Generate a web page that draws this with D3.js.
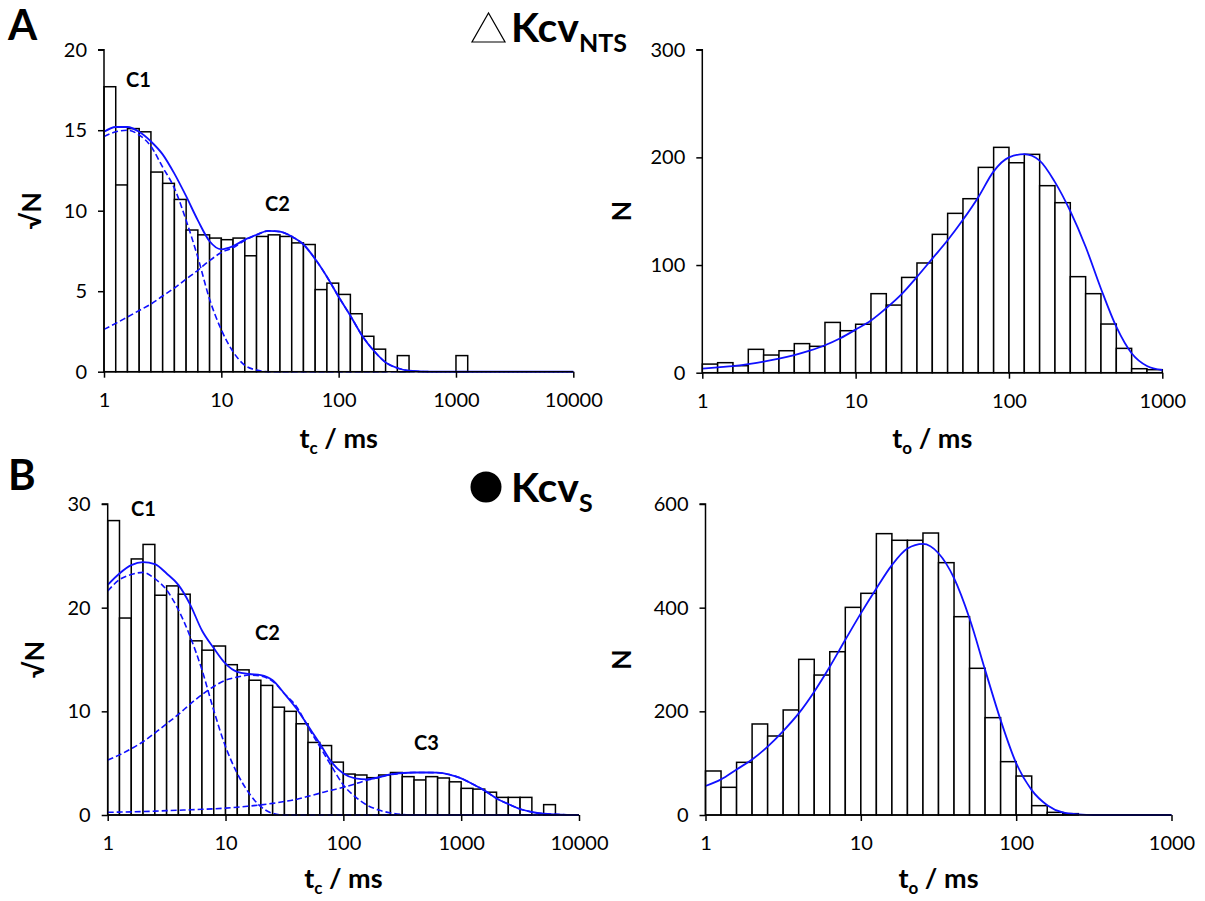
<!DOCTYPE html>
<html><head><meta charset="utf-8">
<script src="https://cdn.jsdelivr.net/npm/d3@7"></script>
<style>
html,body{margin:0;padding:0;background:#fff;}
svg{display:block;}
text{font-family:Lato,"Open Sans","Liberation Sans",sans-serif;fill:#000;}
</style></head>
<body>
<svg id="chart" width="1205" height="901"></svg>
<script>
// ---------- DATA (bins are 0.1-decade wide, starting at 1 ms) ----------
const xTicksClosed = [1, 10, 100, 1000, 10000];
const xTicksOpen = [1, 10, 100, 1000];
const yTicksA_closed = [0, 5, 10, 15, 20];
const yTicksA_open = [0, 100, 200, 300];
const yTicksB_closed = [0, 10, 20, 30];
const yTicksB_open = [0, 200, 400, 600];

// Panel A, closed times (sqrt N)
const aClosedBins = [17.7, 11.6, 15.1, 14.9, 12.4, 11.7, 10.7, 8.8, 8.5, 8.3,
  8.2, 8.3, 7.2, 8.4, 8.5, 8.4, 8.0, 7.9, 5.1, 5.5,
  4.8, 3.6, 2.2, 1.4, 0, 1.0, 0, 0, 0, 0, 1.0];
// fits sampled every 0.1 decade from 1 ms
const aClosedTotal = [14.9, 15.2, 15.2, 14.9, 14.3, 13.5, 12.3, 10.9, 9.4, 8.1,
  7.6, 7.8, 8.2, 8.5, 8.75, 8.7, 8.4, 7.9, 7.0, 5.9,
  4.65, 3.48, 2.24, 1.3, 0.58, 0.23, 0.06, 0.02, 0, 0,
  0, 0, 0, 0, 0, 0, 0, 0, 0, 0, 0];
const aClosedC1 = [14.6, 14.9, 15.0, 14.7, 14.0, 12.7, 11.4, 9.4, 7.1, 4.5,
  2.6, 1.24, 0.4, 0.1, 0, 0, 0, 0, 0, 0,
  0, 0, 0, 0, 0, 0, 0, 0, 0, 0,
  0, 0, 0, 0, 0, 0, 0, 0, 0, 0, 0];
const aClosedC2 = [2.63, 3.0, 3.4, 3.8, 4.2, 4.7, 5.2, 5.75, 6.3, 6.9,
  7.4, 7.7, 8.15, 8.5, 8.75, 8.7, 8.4, 7.9, 7.0, 5.9,
  4.65, 3.48, 2.24, 1.3, 0.58, 0.23, 0.06, 0.02, 0, 0,
  0, 0, 0, 0, 0, 0, 0, 0, 0, 0, 0];

// Panel A, open times (N)
const aOpenBins = [8, 9.3, 6.5, 21.7, 16.4, 20.4, 27, 24.5, 46.7, 39,
  45, 73.4, 62.8, 88.5, 101.9, 128.5, 148, 161.6, 190.7, 209.3,
  195, 202.8, 173.7, 157.9, 89.2, 73.4, 45.2, 22.6, 3.7, 2.8];
const aOpenFit = [3.7, 5, 6.2, 8, 10.2, 13, 16.4, 20.5, 25.5, 32,
  40, 48.5, 60, 73, 89, 106, 123, 142, 163, 187,
  200, 203, 197, 177, 150, 117, 78, 42.7, 18, 6.2, 2.5];

// Panel B, closed times (sqrt N)
const bClosedBins = [28.4, 19.0, 24.7, 26.1, 21.2, 22.1, 21.3, 16.8, 15.9, 16.3,
  14.5, 14.0, 13.0, 12.5, 10.4, 10.0, 8.8, 7.0, 6.7, 5.1,
  3.95, 3.86, 3.6, 3.86, 4.1, 3.7, 3.38, 3.7, 3.57, 3.2,
  2.57, 2.5, 2.2, 1.7, 1.7, 1.7, 0, 1.0];
const bClosedTotal = [22.2, 23.3, 24.1, 24.4, 24.2, 23.3, 22.2, 20.3, 17.8, 16.1,
  14.6, 13.8, 13.6, 13.5, 13.0, 11.7, 10.3, 8.6, 6.9, 5.1,
  4.0, 3.54, 3.44, 3.63, 3.92, 4.05, 4.1, 4.1, 4.08, 3.9,
  3.54, 2.96, 2.35, 1.6, 1.06, 0.58, 0.29, 0.13, 0.06, 0.02, 0];
const bClosedC1 = [21.6, 22.7, 23.2, 23.4, 22.8, 21.7, 19.8, 17.2, 14.0, 10.1,
  6.6, 4.0, 2.1, 0.8, 0.16, 0, 0, 0, 0, 0,
  0, 0, 0, 0, 0, 0, 0, 0, 0, 0,
  0, 0, 0, 0, 0, 0, 0, 0, 0, 0, 0];
const bClosedC2 = [5.3, 5.8, 6.4, 7.07, 7.9, 8.8, 9.7, 10.7, 11.6, 12.4,
  13.0, 13.3, 13.5, 13.4, 12.9, 11.7, 10.5, 8.5, 6.6, 4.7,
  2.9, 1.77, 0.96, 0.48, 0.2, 0.05, 0, 0, 0, 0,
  0, 0, 0, 0, 0, 0, 0, 0, 0, 0, 0];
const bClosedC3 = [0.26, 0.28, 0.3, 0.33, 0.37, 0.42, 0.46, 0.5, 0.55, 0.6,
  0.66, 0.75, 0.86, 0.98, 1.12, 1.3, 1.5, 1.8, 2.1, 2.4,
  2.67, 3.0, 3.35, 3.63, 3.88, 4.03, 4.1, 4.1, 4.08, 3.9,
  3.54, 2.96, 2.35, 1.6, 1.06, 0.58, 0.29, 0.13, 0.06, 0.02, 0];

// Panel B, open times (N)
const bOpenBins = [84.9, 53.4, 101.6, 175.6, 152.4, 202.6, 300.3, 270, 315, 400.6,
  427.7, 542.8, 530, 530, 544, 486.8, 382.6, 283, 187.8, 102.9,
  75.2, 18, 5.1, 2.6];
const bOpenFit = [56, 68.8, 88, 107, 132, 162, 196, 238, 286, 338,
  389, 437, 482, 514, 523, 505, 457, 379, 280, 183,
  100, 48, 19, 5, 1.3, 0, 0, 0, 0, 0, 0];

// ---------- DRAWING ----------
const svg = d3.select('#chart');
const BLUE = '#1010ff';

function drawPanel(p) {
  const x = d3.scaleLog().domain(p.xDomain).range([p.x0, p.x1]);
  const y = d3.scaleLinear().domain(p.yDomain).range([p.y0, p.y1]);
  const g = svg.append('g');
  const edge = i => x(Math.pow(10, i * 0.1));

  g.append('g').selectAll('rect')
    .data(p.bins.map((v, i) => ({v, i})).filter(d => d.v > 0))
    .join('rect')
    .attr('x', d => edge(d.i))
    .attr('width', d => edge(d.i + 1) - edge(d.i))
    .attr('y', d => y(d.v))
    .attr('height', d => y(0) - y(d.v))
    .attr('fill', '#fff').attr('stroke', '#000').attr('stroke-width', 1.5);

  const line = d3.line()
    .x((d, i) => edge(i))
    .y(d => y(d))
    .curve(d3.curveMonotoneX);

  (p.comps || []).forEach(c => {
    g.append('path').attr('d', line(c))
      .attr('fill', 'none').attr('stroke', BLUE).attr('stroke-width', 1.6)
      .attr('stroke-dasharray', '6,3');
  });
  g.append('path').attr('d', line(p.fit))
    .attr('fill', 'none').attr('stroke', BLUE).attr('stroke-width', 1.8);

  const xa = g.append('g').attr('transform', `translate(0,${p.y0})`)
    .call(d3.axisBottom(x).tickValues(p.xTicks).tickFormat(d3.format('d'))
      .tickSize(6).tickSizeOuter(0).tickPadding(15));
  const ya = g.append('g').attr('transform', `translate(${p.x0},0)`)
    .call(d3.axisLeft(y).tickValues(p.yTicks).tickSize(6).tickSizeOuter(0).tickPadding(11));
  [xa, ya].forEach(a => {
    a.select('.domain').attr('stroke', '#000').attr('stroke-width', 1.5);
    a.selectAll('.tick line').attr('stroke', '#000').attr('stroke-width', 1.5);
    a.selectAll('.tick text').style('font-size', '20px').attr('fill', '#000')
      .style('font-family', 'Lato, "Open Sans", sans-serif');
  });
  ya.select('.domain').attr('d', `M-6,${p.y1}H0V${p.y0}`);
  xa.select('.domain').attr('d', `M${p.x0},0H${p.x1}`);

  // x title
  const xt = g.append('text')
    .attr('x', (p.x0 + p.x1) / 2).attr('y', p.y0 + p.xtOff)
    .attr('text-anchor', 'middle').style('font-size', '27px').style('font-weight', 700);
  xt.append('tspan').text('t');
  xt.append('tspan').text(p.sub).style('font-size', '17px').attr('dy', 6);
  xt.append('tspan').text(' / ms').attr('dy', -6);

  // y title
  g.append('text')
    .attr('transform', `translate(${p.ytx},${(p.y0 + p.y1) / 2}) rotate(-90)`)
    .attr('text-anchor', 'middle').style('font-size', '27px').style('font-weight', 700)
    .text(p.ytitle);

  (p.labels || []).forEach(l => {
    g.append('text').attr('x', l[1]).attr('y', l[2])
      .style('font-size', '20px').style('font-weight', 700).text(l[0]);
  });
}

drawPanel({x0: 104, x1: 573.3, y0: 371.7, y1: 49.7, xDomain: [1, 10000], yDomain: [0, 20],
  xTicks: xTicksClosed, yTicks: yTicksA_closed, bins: aClosedBins, fit: aClosedTotal,
  comps: [aClosedC1, aClosedC2], sub: 'c', ytitle: '√N', ytx: 41, xtOff: 76,
  labels: [['C1', 126, 87], ['C2', 265, 211]]});
drawPanel({x0: 702.3, x1: 1162.3, y0: 372.7, y1: 49.7, xDomain: [1, 1000], yDomain: [0, 300],
  xTicks: xTicksOpen, yTicks: yTicksA_open, bins: aOpenBins, fit: aOpenFit,
  sub: 'o', ytitle: 'N', ytx: 631, xtOff: 75});
drawPanel({x0: 107.7, x1: 579, y0: 815, y1: 504, xDomain: [1, 10000], yDomain: [0, 30],
  xTicks: xTicksClosed, yTicks: yTicksB_closed, bins: bClosedBins, fit: bClosedTotal,
  comps: [bClosedC1, bClosedC2, bClosedC3], sub: 'c', ytitle: '√N', ytx: 44, xtOff: 73,
  labels: [['C1', 131, 516], ['C2', 255, 640], ['C3', 414, 750]]});
drawPanel({x0: 705.5, x1: 1171.5, y0: 815, y1: 504, xDomain: [1, 1000], yDomain: [0, 600],
  xTicks: xTicksOpen, yTicks: yTicksB_open, bins: bOpenBins, fit: bOpenFit,
  sub: 'o', ytitle: 'N', ytx: 631, xtOff: 73});

// panel letters
svg.append('text').attr('x', 8).attr('y', 40).style('font-size', '42px').style('font-weight', 700).text('A');
svg.append('text').attr('x', 8).attr('y', 490).style('font-size', '42px').style('font-weight', 700).text('B');

// construct titles
svg.append('path').attr('d', 'M472,42L505,42L488.5,13Z').attr('fill', 'none')
  .attr('stroke', '#000').attr('stroke-width', 1.2);
const t1 = svg.append('text').attr('x', 511).attr('y', 42).style('font-size', '41px').style('font-weight', 700);
t1.append('tspan').text('Kcv');
t1.append('tspan').text('NTS').style('font-size', '25px').attr('dy', 10);

svg.append('circle').attr('cx', 486).attr('cy', 487).attr('r', 15.5).attr('fill', '#000');
const t2 = svg.append('text').attr('x', 511).attr('y', 502).style('font-size', '41px').style('font-weight', 700);
t2.append('tspan').text('Kcv');
t2.append('tspan').text('S').style('font-size', '25px').attr('dy', 10);
</script>
</body></html>
